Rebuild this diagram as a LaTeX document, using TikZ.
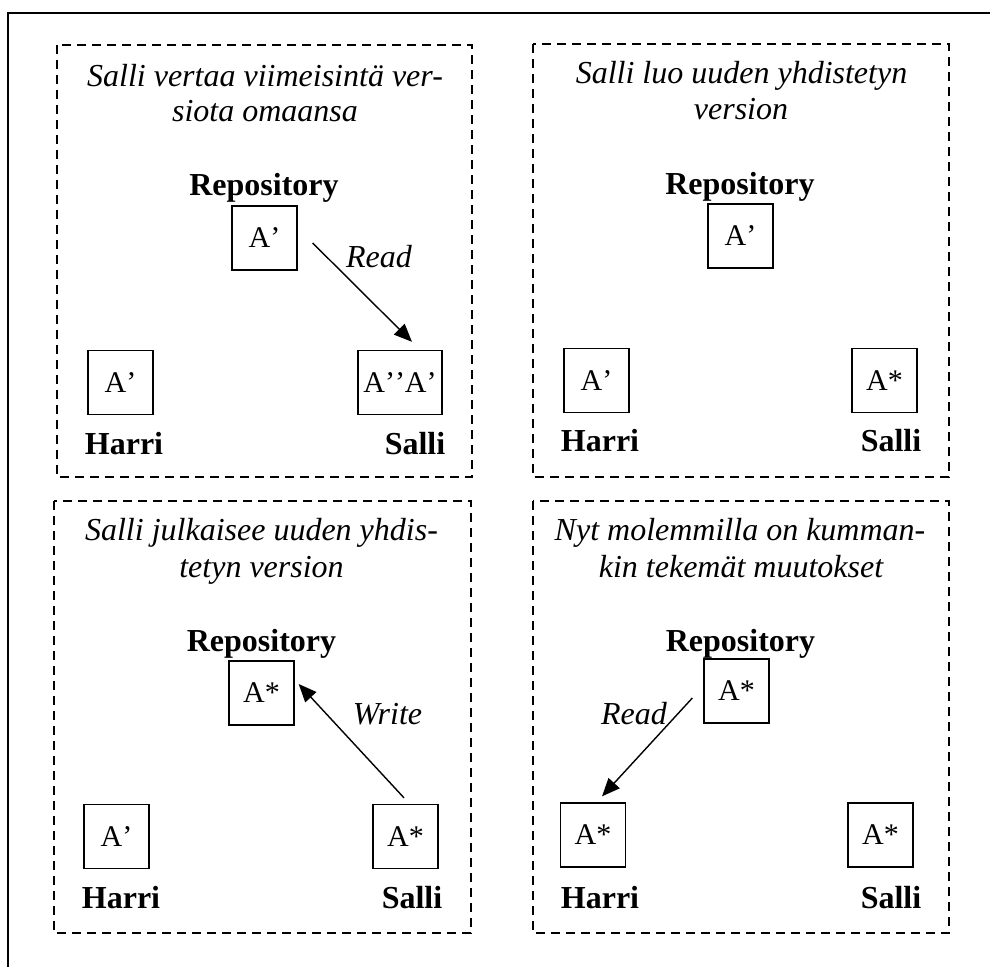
\documentclass[tikz,border=0pt]{standalone}
\usepackage{fontspec}
\setmainfont{Liberation Serif}
\newfontfamily\docfont{Liberation Serif}[Kerning=Off]
\usetikzlibrary{arrows.meta,calc}
\tikzset{
  frameline/.style={line width=1pt},
  panel/.style={dash pattern=on 4.5pt off 3pt, line width=0.65pt},
  doc/.style={draw, line width=0.65pt, minimum width=32.5pt, minimum height=32pt,
    inner sep=0pt, font=\docfont\fontsize{15}{17}\selectfont},
  title/.style={anchor=base, inner sep=0pt, font=\fontsize{16}{19}\selectfont\itshape},
  who/.style={anchor=base, inner sep=0pt, font=\fontsize{16}{19}\selectfont\bfseries},
  act/.style={anchor=base, inner sep=0pt, font=\fontsize{16}{19}\selectfont\itshape},
  flow/.style={line width=0.7pt, -{Triangle[length=9pt,width=7.5pt]}},
}
\begin{document}
\begin{tikzpicture}[x=0.5pt, y=-0.5pt]
\useasboundingbox (0,0) rectangle (990,967);
\clip (0,0) rectangle (990,967);
% outer frame (runs off the right and bottom edges)
\draw[frameline] (7.5,1000) -- (7.5,13) -- (1000,13);

% --- step 1: compare ---
\draw[panel] (57,45) rectangle (472,477);
\node[title] (t1a) at (265,87) {Salli vertaa viimeisintä ver-};
\node[title] (t1b) at (265,122) {siota omaansa};
\node[who] (rl1) at (264,196) {Repository};
\node[doc] (r1) at (264.5,238) {A’};
\node[doc] (h1) at (120.5,382.5) {A’};
\node[doc, minimum width=42pt] (s1) at (400,382.5) {A’’A’};
\node[who] (hl1) at (124,455) {Harri};
\node[who] (sl1) at (415,455) {Salli};
\draw[flow] ($(r1.east)+(15,5)$) -- ($(s1.north)+(12,-8)$);
\node[act] (a1) at (379,268) {Read};

% --- step 2: merge ---
\draw[panel] (533,44) rectangle (949,477);
\node[title] (t2a) at (741.5,84) {Salli luo uuden yhdistetyn};
\node[title] (t2b) at (741,120) {version};
\node[who] (rl2) at (740,195) {Repository};
\node[doc] (r2) at (740.5,236) {A’};
\node[doc] (h2) at (596.5,380.5) {A’};
\node[doc] (s2) at (884.5,380.5) {A*};
\node[who] (hl2) at (600,452) {Harri};
\node[who] (sl2) at (891,452) {Salli};

% --- step 3: publish ---
\draw[panel] (54,501) rectangle (471,933);
\node[title] (t3a) at (261.5,541) {Salli julkaisee uuden yhdis-};
\node[title] (t3b) at (261.5,577) {tetyn version};
\node[who] (rl3) at (261.5,651) {Repository};
\node[doc] (r3) at (261.5,693) {A*};
\node[doc] (h3) at (116.5,836.5) {A’};
\node[doc] (s3) at (405.5,836.5) {A*};
\node[who] (hl3) at (121,908) {Harri};
\node[who] (sl3) at (412,908) {Salli};
\draw[flow] ($(s3.north)+(-1.5,-6)$) -- ($(r3.east)+(4,-9)$);
\node[act] (a3) at (387.5,724) {Write};

% --- step 4: update ---
\draw[panel] (533,501) rectangle (949,933);
\node[title] (t4a) at (740,541) {Nyt molemmilla on kumman-};
\node[title] (t4b) at (741,577) {kin tekemät muutokset};
\node[who] (rl4) at (740.5,651) {Repository};
\node[doc] (r4) at (736.5,691) {A*};
\node[doc] (h4) at (593,835) {A*};
\node[doc] (s4) at (880.5,835) {A*};
\node[who] (hl4) at (600,908) {Harri};
\node[who] (sl4) at (891,908) {Salli};
\draw[flow] ($(r4.west)+(-11,7)$) -- ($(h4.north)+(9,-6)$);
\node[act] (a4) at (634,724) {Read};
\end{tikzpicture}
\end{document}
